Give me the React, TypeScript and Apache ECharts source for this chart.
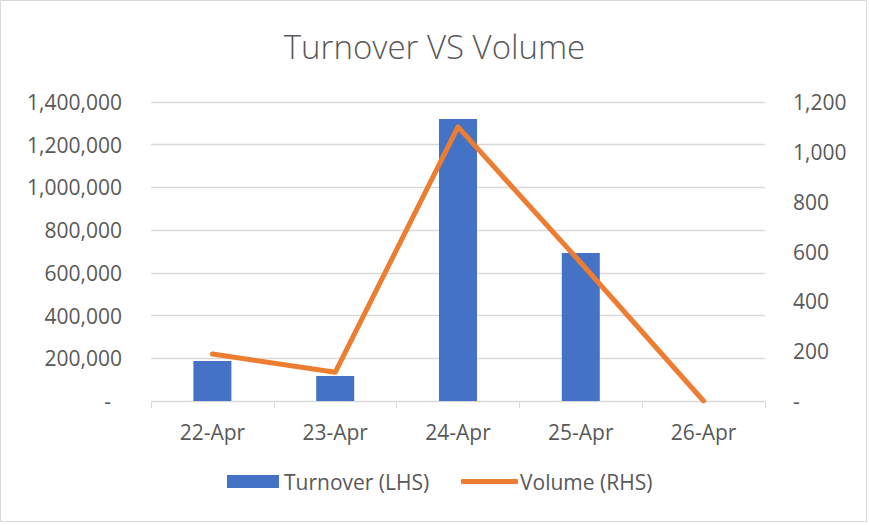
import React, { useEffect, useRef } from "react";
import * as echarts from "echarts";

const categories = ["22-Apr", "23-Apr", "24-Apr", "25-Apr", "26-Apr"];
const turnover = [187000, 117000, 1320000, 693000, 0];
const volume = [189, 115, 1100, 555, 0];
const leftTicks = { min: 0, max: 1400000, interval: 200000 };
const rightTicks = { min: 0, max: 1200, interval: 200 };

const FONT = "'Open Sans', 'Liberation Sans', sans-serif";
const TEXT = "#595959";
const GRID = "#D9D9D9";

export default function App() {
  const ref = useRef<HTMLDivElement>(null);
  useEffect(() => {
    document.body.style.margin = "0";
    const chart = echarts.init(ref.current!, null, { renderer: "svg" });
    const fmt = (v: number) => (v === 0 ? "{d|-}" : v.toLocaleString("en-US"));
    const legendText = { fontFamily: FONT, fontSize: 21, color: TEXT };
    chart.setOption({
      animation: false,
      backgroundColor: "#fff",
      textStyle: { fontFamily: FONT },
      title: {
        text: "Turnover VS Volume",
        left: "center",
        top: 25,
        textStyle: { fontFamily: FONT, fontSize: 33, fontWeight: 300, color: TEXT },
      },
      graphic: [
        {
          type: "rect",
          shape: { x: 0.5, y: 0.5, width: 866, height: 521 },
          style: { fill: "none", stroke: GRID, lineWidth: 1 },
          silent: true,
          z: -1,
        },
      ],
      legend: [
        {
          left: 227,
          top: 471,
          padding: 0,
          itemGap: 5,
          itemWidth: 52,
          itemHeight: 13,
          textStyle: legendText,
          data: [{ name: "Turnover (LHS)", icon: "rect" }],
        },
        {
          left: 461,
          top: 471,
          padding: 0,
          itemWidth: 57,
          itemHeight: 5,
          textStyle: { ...legendText, padding: [0, 0, 0, -3] },
          data: [{ name: "Volume (RHS)", icon: "roundRect", itemStyle: { color: "#ED7D31" } }],
        },
      ],
      grid: { left: 151, right: 104, top: 102, bottom: 124, containLabel: false },
      xAxis: {
        type: "category",
        data: categories,
        boundaryGap: true,
        axisLine: { lineStyle: { color: GRID, width: 1 } },
        axisTick: { show: true, length: 7, lineStyle: { color: GRID } },
        axisLabel: { color: TEXT, fontSize: 21, fontFamily: FONT, margin: 20 },
      },
      yAxis: [
        {
          type: "value",
          ...leftTicks,
          axisLine: { show: false },
          axisTick: { show: false },
          splitLine: { lineStyle: { color: GRID, width: 1.3 } },
          axisLabel: {
            color: TEXT,
            fontSize: 21,
            fontFamily: FONT,
            margin: 29,
            formatter: fmt,
            rich: { d: { fontSize: 21, fontFamily: FONT, color: TEXT, padding: [0, 11, 0, 0] } },
          },
        },
        {
          type: "value",
          ...rightTicks,
          axisLine: { show: false },
          axisTick: { show: false },
          splitLine: { show: false },
          axisLabel: {
            color: TEXT,
            fontSize: 21,
            fontFamily: FONT,
            margin: 28,
            formatter: fmt,
            rich: { d: { fontSize: 21, fontFamily: FONT, color: TEXT } },
          },
        },
      ],
      series: [
        {
          name: "Turnover (LHS)",
          type: "bar",
          data: turnover,
          barWidth: 38,
          itemStyle: { color: "#4472C4" },
        },
        {
          name: "Volume (RHS)",
          type: "line",
          yAxisIndex: 1,
          data: volume,
          symbol: "none",
          showSymbol: false,
          lineStyle: { color: "#ED7D31", width: 5, cap: "round", join: "round" },
          itemStyle: { color: "#ED7D31" },
        },
      ],
    });
    return () => chart.dispose();
  }, []);
  return <div ref={ref} style={{ width: 869, height: 525 }} />;
}
